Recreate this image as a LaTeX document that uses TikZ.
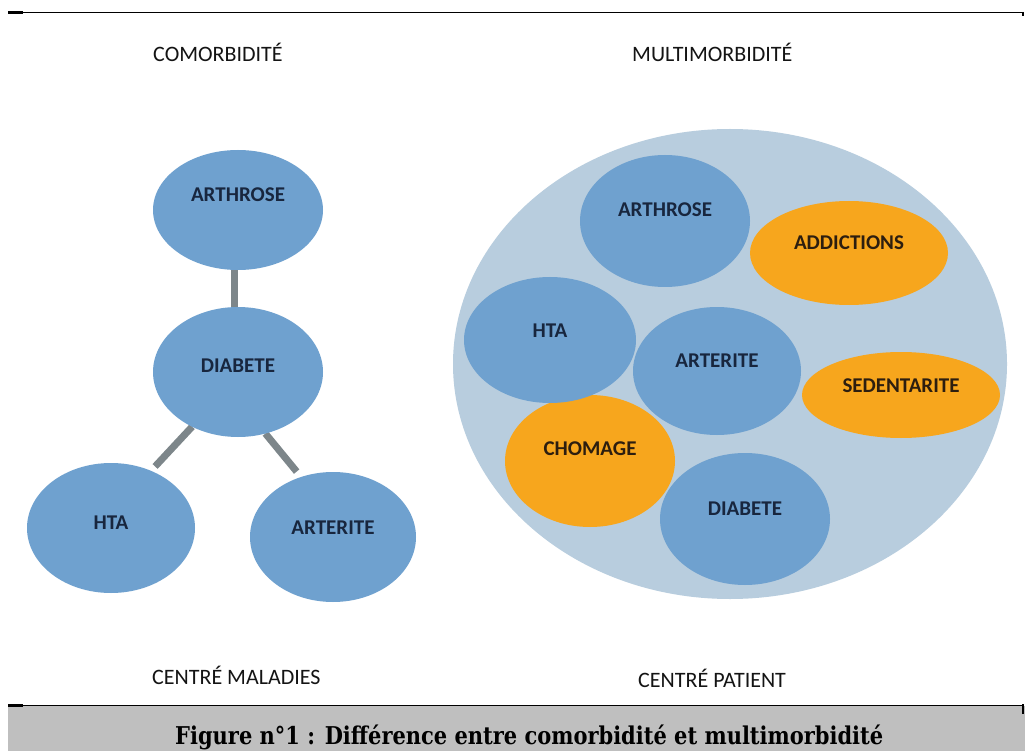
\documentclass[tikz,border=0pt]{standalone}
\usepackage{fontspec}
\usepackage{graphicx}
\setmainfont{Carlito}
\newfontfamily\capfont{DejaVu Serif}
\usetikzlibrary{shapes.geometric,backgrounds}
\definecolor{blobblue}{RGB}{111,161,207}
\definecolor{bigpale}{RGB}{184,205,222}
\definecolor{blobor}{RGB}{247,166,29}
\definecolor{linkgray}{RGB}{125,134,138}
\definecolor{navy}{RGB}{24,38,62}
\definecolor{darkbrown}{RGB}{45,30,15}
\definecolor{capgray}{RGB}{191,191,191}
\definecolor{titleblack}{RGB}{20,20,20}
\begin{document}
\begin{tikzpicture}[x=1pt,y=-1pt,
  blob/.style={ellipse, inner sep=0pt, outer sep=0pt, font=\fontsize{21}{21}\selectfont\bfseries, text height=14pt},
  blueblob/.style={blob, fill=blobblue, text=navy},
  orangeblob/.style={blob, fill=blobor, text=darkbrown},
  link/.style={draw=linkgray, line width=7pt},
  heading/.style={anchor=base west, inner sep=0pt, font=\fontsize{22}{22}\selectfont, text=titleblack},
  rulestyle/.style={line width=1.3pt, draw=black},
  stub/.style={line width=3pt, draw=black}]

\useasboundingbox (0,0) rectangle (1025,751);

% headings
\node[heading] (t1) at (153,62) {COMORBIDITÉ};
\node[heading] (t2) at (632,62) {MULTIMORBIDITÉ};
\node[heading] (t3) at (152,684) {CENTRÉ MALADIES};
\node[heading] (t4) at (638,687) {CENTRÉ PATIENT};

% left: comorbidity
\node[blueblob, minimum width=170, minimum height=120, text depth=30pt] (larth) at (238,210) {ARTHROSE};
\node[blueblob, minimum width=170, minimum height=130, text depth=14pt] (ldia) at (238,372) {DIABETE};
\node[blueblob, minimum width=168, minimum height=130, text depth=12pt] (lhta) at (111,528) {HTA};
\node[blueblob, minimum width=166, minimum height=130, text depth=20pt] (larte) at (333,537) {ARTERITE};

% right: multimorbidity
\node[ellipse, fill=bigpale, minimum width=554, minimum height=470, inner sep=0pt] (patient) at (730,364) {};
\node[orangeblob, minimum width=170, minimum height=132, text depth=26pt] (chom) at (590,461) {CHOMAGE};
\node[blueblob, minimum width=172, minimum height=126, text depth=20pt] (rhta) at (550,340) {HTA};
\node[blueblob, minimum width=170, minimum height=132, text depth=22pt] (rarth) at (665,221) {ARTHROSE};
\node[orangeblob, minimum width=198, minimum height=104, text depth=20pt] (addi) at (849,253) {ADDICTIONS};
\node[blueblob, minimum width=168, minimum height=128, text depth=22pt] (rarte) at (717,371) {ARTERITE};
\node[orangeblob, minimum width=198, minimum height=86, text depth=20pt] (sede) at (901,395) {SEDENTARITE};
\node[blueblob, minimum width=170, minimum height=132, text depth=22pt] (rdia) at (745,519) {DIABETE};

% caption
\fill[capgray] (8,706) rectangle (1025,751);
\node[anchor=base west, inner sep=0pt, text=black] (caption) at (175,744)
  {\resizebox{708pt}{\height}{\capfont\bfseries\fontsize{24.5}{26}\selectfont Figure n°1 : Différence entre comorbidité et multimorbidité}};

% rules
\draw[rulestyle] (8,12.5) -- (1022,12.5);
\draw[stub] (8,13) -- (23,13);
\draw[line width=2pt] (1023,12) -- (1023,16);
\draw[rulestyle] (8,705.5) -- (1022,705.5);
\draw[stub] (8,705) -- (23,705);
\draw[line width=2pt] (1023,704) -- (1023,714);

\begin{scope}[on background layer]
  \fill[white] (0,0) rectangle (1025,751);
  \draw[link] ([xshift=-4pt]larth.south) -- ([xshift=-4pt]ldia.north);
  \draw[link, shorten >=6pt] (ldia.230) -- (lhta.55);
  \draw[link, shorten >=7pt] (ldia.294) -- (larte.118);
\end{scope}
\end{tikzpicture}
\end{document}
